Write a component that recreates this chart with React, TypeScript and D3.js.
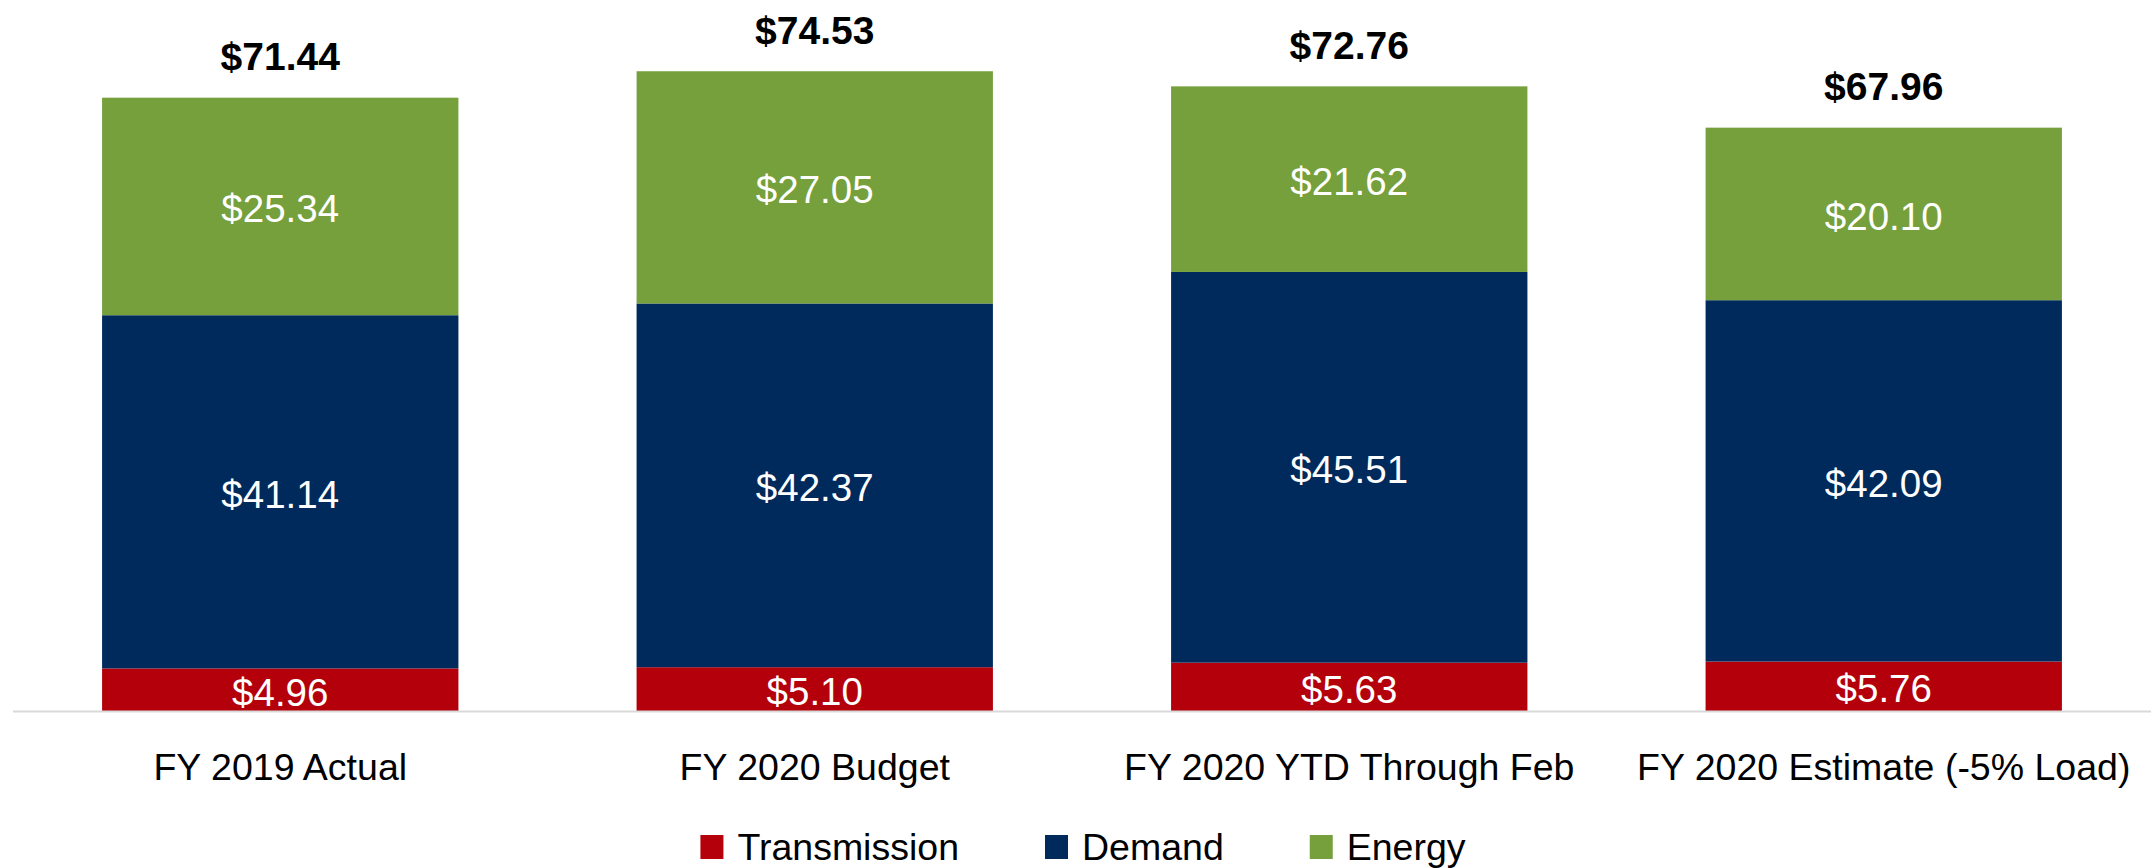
import React, { useRef, useEffect } from 'react';
import * as d3 from 'd3';

// data ($/MWh)
const categories = ['FY 2019 Actual', 'FY 2020 Budget', 'FY 2020 YTD Through Feb', 'FY 2020 Estimate (-5% Load)'];
const transmission = [4.96, 5.10, 5.63, 5.76];
const demand = [41.14, 42.37, 45.51, 42.09];
const energy = [25.34, 27.05, 21.62, 20.10];
const totals = [71.44, 74.53, 72.76, 67.96];
const seriesNames = ['Transmission', 'Demand', 'Energy'];
const seriesColors = ['#B4000A', '#002A5C', '#76A03C'];

const W = 2155;
const H = 868;
const FONT = "'Liberation Sans', Arial, sans-serif";

const App = () => {
  const ref = useRef<SVGSVGElement>(null);

  useEffect(() => {
    const svg = d3.select(ref.current);
    svg.selectAll('*').remove();

    const rows = categories.map((c, i) => ({
      cat: c,
      Transmission: transmission[i],
      Demand: demand[i],
      Energy: energy[i],
    }));

    const x = d3.scaleBand()
      .domain(categories)
      .range([13, 2151])
      .paddingInner(1 / 3)
      .paddingOuter(1 / 6);

    const y = d3.scaleLinear()
      .domain([0, 80])
      .range([711, 711 - 80 * 8.585]);

    const color = d3.scaleOrdinal<string, string>().domain(seriesNames).range(seriesColors);

    const stacked = d3.stack<any>().keys(seriesNames)(rows);

    const layers = svg.append('g')
      .selectAll('g')
      .data(stacked)
      .join('g')
      .attr('fill', d => color(d.key));

    layers.selectAll('rect')
      .data(d => d)
      .join('rect')
      .attr('x', d => x(d.data.cat)!)
      .attr('width', x.bandwidth())
      .attr('y', d => y(d[1]))
      .attr('height', d => y(d[0]) - y(d[1]));

    // segment labels
    layers.selectAll('text')
      .data(d => d.map(p => ({ p, key: d.key })))
      .join('text')
      .attr('x', d => x(d.p.data.cat)! + x.bandwidth() / 2)
      .attr('y', d => (y(d.p[0]) + y(d.p[1])) / 2 + 16)
      .attr('text-anchor', 'middle')
      .attr('fill', '#fff')
      .style('font-family', FONT)
      .style('font-size', '38.5px')
      .text(d => '$' + (d.p.data[d.key] as number).toFixed(2));

    // axis baseline
    svg.append('line')
      .attr('x1', 13)
      .attr('x2', 2151)
      .attr('y1', y(0) + 0.5)
      .attr('y2', y(0) + 0.5)
      .attr('stroke', '#D9D9D9')
      .attr('stroke-width', 2);

    // totals
    svg.append('g')
      .selectAll('text')
      .data(categories)
      .join('text')
      .attr('x', d => x(d)! + x.bandwidth() / 2)
      .attr('y', (d, i) => y(totals[i]) - 27.5)
      .attr('text-anchor', 'middle')
      .attr('fill', '#000')
      .style('font-family', FONT)
      .style('font-weight', 'bold')
      .style('font-size', '39px')
      .text((d, i) => '$' + totals[i].toFixed(2));

    // category labels
    svg.append('g')
      .selectAll('text')
      .data(categories)
      .join('text')
      .attr('x', d => x(d)! + x.bandwidth() / 2)
      .attr('y', 780)
      .attr('text-anchor', 'middle')
      .attr('fill', '#000')
      .style('font-family', FONT)
      .style('font-size', '37.5px')
      .text(d => d);

    // legend, centered under the plot
    const legend = svg.append('g');
    const items = legend.selectAll('g')
      .data(seriesNames)
      .join('g');
    items.append('rect')
      .attr('width', 23)
      .attr('height', 24)
      .attr('y', 835)
      .attr('fill', d => color(d));
    items.append('text')
      .attr('x', 37)
      .attr('y', 860)
      .attr('fill', '#000')
      .style('font-family', FONT)
      .style('font-size', '37.5px')
      .text(d => d);

    let offset = 0;
    const widths: number[] = [];
    items.each(function () {
      const t = d3.select(this).select('text').node() as SVGTextElement;
      widths.push(37 + t.getComputedTextLength());
    });
    const gap = 86;
    const totalW = d3.sum(widths) + gap * (widths.length - 1);
    const start = 1083 - totalW / 2;
    items.attr('transform', (d, i) => {
      const tx = start + offset;
      offset += widths[i] + gap;
      return `translate(${tx},0)`;
    });
  }, []);

  return (
    <svg
      ref={ref}
      width={W}
      height={H}
      style={{ position: 'absolute', left: 0, top: 0, display: 'block', background: '#fff' }}
    />
  );
};

export default App;
